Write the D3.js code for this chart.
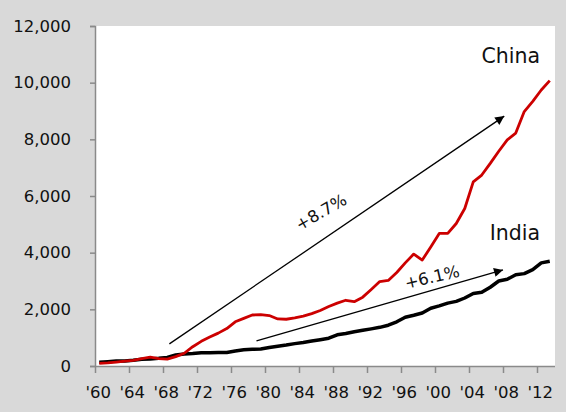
<!DOCTYPE html>
<html>
<head>
<meta charset="utf-8">
<script src="https://cdn.jsdelivr.net/npm/d3@7"></script>
<style>
  html, body { margin: 0; padding: 0; background: #d9d9d9; }
  svg { display: block; }
  text { font-family: "DejaVu Sans", Verdana, sans-serif; fill: #111; }
</style>
</head>
<body>
<svg id="chart" width="566" height="412"></svg>
<script>
// GDP per capita style series, 1960–2013
const years = [1960,1961,1962,1963,1964,1965,1966,1967,1968,1969,
               1970,1971,1972,1973,1974,1975,1976,1977,1978,1979,
               1980,1981,1982,1983,1984,1985,1986,1987,1988,1989,
               1990,1991,1992,1993,1994,1995,1996,1997,1998,1999,
               2000,2001,2002,2003,2004,2005,2006,2007,2008,2009,
               2010,2011,2012,2013];

const china = [95,110,140,175,200,260,310,260,240,330,
               450,680,870,1020,1160,1320,1560,1680,1800,1810,
               1780,1660,1650,1700,1760,1850,1960,2100,2220,2320,
               2270,2430,2700,2980,3020,3300,3640,3950,3740,4200,
               4680,4680,5030,5560,6500,6740,7150,7580,7980,8220,
               8980,9340,9740,10070];

const india = [130,150,175,180,200,235,250,270,300,390,
               420,440,470,470,475,480,530,570,590,600,
               650,700,740,790,830,880,930,980,1100,1150,
               1210,1260,1310,1365,1440,1560,1720,1790,1870,2040,
               2120,2220,2280,2400,2560,2600,2780,3000,3060,3220,
               3260,3400,3640,3700];

const yTicks = [0,2000,4000,6000,8000,10000,12000];
const xLabelYears = [1960,1964,1968,1972,1976,1980,1984,1988,1992,1996,2000,2004,2008,2012];
const xLabels = ["'60","'64","'68","'72","'76","'80","'84","'88","'92","'96","'00","'04","'08","'12"];

// trend annotations: [year, value] endpoints and label
const trendChina = { from: [1968.25, 780], to: [2007.65, 8820], label: "+8.7%" };
const trendIndia = { from: [1978.5, 890], to: [2007.5, 3390], label: "+6.1%" };

const svg = d3.select("#chart");
const plotLeft = 95, plotRight = 554, plotTop = 26, plotBottom = 366;

const x = d3.scaleLinear().domain([1959.5, 2013.5]).range([plotLeft, plotRight]);
const y = d3.scaleLinear().domain([0, 12000]).range([plotBottom, plotTop]);

// plot area
svg.append("rect")
  .attr("x", plotLeft).attr("y", plotTop)
  .attr("width", plotRight - plotLeft + 1).attr("height", plotBottom - plotTop)
  .attr("fill", "#ffffff");

const axisColor = "#8a8a8a";

// y axis
const yAxis = svg.append("g")
  .attr("transform", `translate(${plotLeft},0)`)
  .call(d3.axisLeft(y).tickValues(yTicks).tickFormat(d3.format(",")).tickSize(5).tickPadding(19));
yAxis.select(".domain").attr("stroke", axisColor).attr("stroke-width", 1.5);
yAxis.selectAll(".tick line").attr("stroke", axisColor).attr("stroke-width", 1.5);
yAxis.selectAll(".tick text").attr("font-size", 16.5).attr("font-family", "DejaVu Sans").attr("fill", "#111");

// x axis: tick marks between year categories every four years
const xTickVals = xLabelYears.map(d => d - 0.5);
const xAxis = svg.append("g")
  .attr("transform", `translate(0,${plotBottom})`)
  .call(d3.axisBottom(x).tickValues(xTickVals).tickFormat("").tickSize(7).tickSizeOuter(0));
xAxis.select(".domain").attr("stroke", axisColor).attr("stroke-width", 1.5)
  .attr("d", `M${plotLeft},0.5H${plotRight + 1}`);
xAxis.selectAll(".tick line").attr("stroke", axisColor).attr("stroke-width", 1.5);

// x labels centred on their year
svg.append("g").selectAll("text")
  .data(xLabelYears)
  .join("text")
  .attr("x", (d) => x(d) - 1)
  .attr("y", 398)
  .attr("text-anchor", "middle")
  .attr("font-size", 16.5)
  .text((d, i) => xLabels[i]);

// series lines
const line = d3.line().x((d, i) => x(years[i])).y(d => y(d));

svg.append("path")
  .datum(india)
  .attr("d", line)
  .attr("fill", "none")
  .attr("stroke", "#000")
  .attr("stroke-width", 3.5)
  .attr("stroke-linejoin", "round");

svg.append("path")
  .datum(china)
  .attr("d", line)
  .attr("fill", "none")
  .attr("stroke", "#cc0000")
  .attr("stroke-width", 2.8)
  .attr("stroke-linejoin", "round");

// arrowheads
svg.append("defs").append("marker")
  .attr("id", "arrow")
  .attr("viewBox", "0 0 10 10")
  .attr("refX", 10).attr("refY", 5)
  .attr("markerWidth", 10).attr("markerHeight", 9)
  .attr("markerUnits", "userSpaceOnUse")
  .attr("orient", "auto")
  .append("path")
  .attr("d", "M0,0L10,5L0,10Z")
  .attr("fill", "#000");

function trend(t, angle, cx, cy) {
  svg.append("line")
    .attr("x1", x(t.from[0])).attr("y1", y(t.from[1]))
    .attr("x2", x(t.to[0])).attr("y2", y(t.to[1]))
    .attr("stroke", "#000")
    .attr("stroke-width", 1.3)
    .attr("marker-end", "url(#arrow)");
  svg.append("text")
    .attr("transform", `translate(${cx},${cy}) rotate(${angle})`)
    .attr("text-anchor", "middle")
    .attr("dy", "0.35em")
    .attr("font-size", 16.5)
    .text(t.label);
}
trend(trendChina, -30, 321, 212);
trend(trendIndia, -13, 432, 277);

// series labels
svg.append("text")
  .attr("x", 540).attr("y", 63)
  .attr("text-anchor", "end")
  .attr("font-family", "Noto Sans")
  .attr("font-size", 20.5)
  .text("China");

svg.append("text")
  .attr("x", 540).attr("y", 240)
  .attr("text-anchor", "end")
  .attr("font-family", "Noto Sans")
  .attr("font-size", 20.5)
  .text("India");
</script>
</body>
</html>
